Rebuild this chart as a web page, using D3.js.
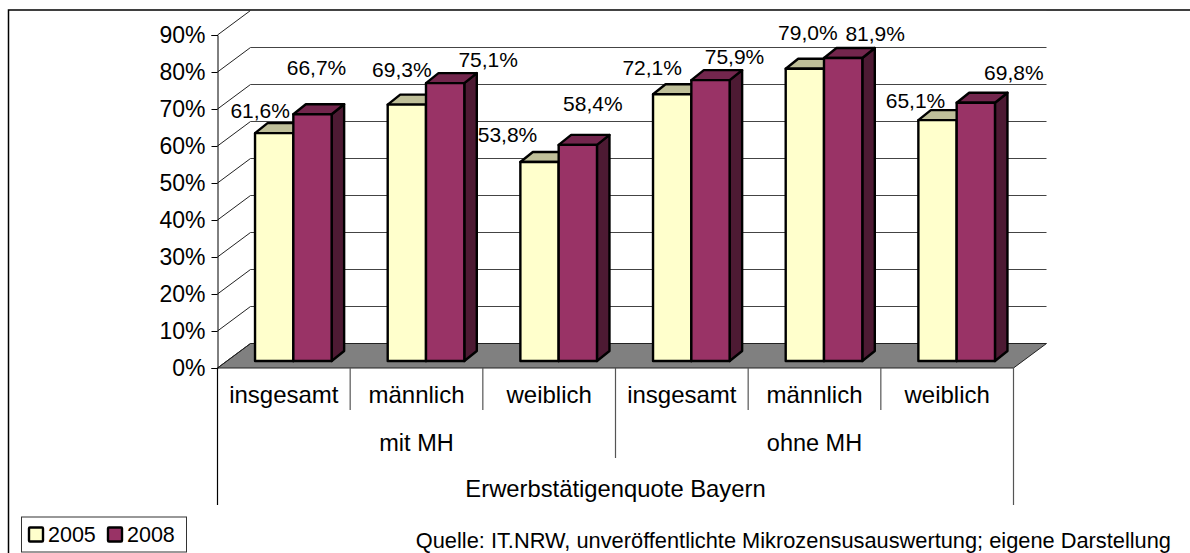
<!DOCTYPE html>
<html>
<head>
<meta charset="utf-8">
<script src="https://cdn.jsdelivr.net/npm/d3@7"></script>
<style>
  html, body { margin: 0; padding: 0; background: #fff; overflow: hidden; }
  text { font-family: "Liberation Sans", Arial, sans-serif; fill: #000; }
</style>
</head>
<body>
<div id="chart"></div>
<script>
// Data
const categories = ["insgesamt", "männlich", "weiblich", "insgesamt", "männlich", "weiblich"];
const groups = ["mit MH", "ohne MH"];
const axisTitle = "Erwerbstätigenquote Bayern";
const years = ["2005", "2008"];
const values2005 = [61.6, 69.3, 53.8, 72.1, 79.0, 65.1];
const values2008 = [66.7, 75.1, 58.4, 75.9, 81.9, 69.8];
const yTicks = [0, 10, 20, 30, 40, 50, 60, 70, 80, 90];
const source = "Quelle: IT.NRW, unveröffentlichte Mikrozensusauswertung; eigene Darstellung";

// Hand-placed data labels, offset from the top centre of each bar
const labelOffset2005 = [[-14, -15], [-5, -28], [-32, -20], [-20, -19], [3, -29], [-22, -12]];
const labelOffset2008 = [[4, -39], [43, -16], [15, -34], [24, -16], [32, -17], [38, -23]];

const width = 1190, height = 553;
const plot = {left: 217.5, right: 1013.5, top: 35, bottom: 368};
const wall = {dx: 33, dy: -24.5};   // floor depth
const barBase = {dx: 9.5, dy: -7};  // where the bars stand on the floor
const barDepth = {dx: 12.5, dy: -10};
const barW = 38.3;
const colors = {
  2005: {front: "#FFFFCC", top: "#BFBF99", side: "#808066"},
  2008: {front: "#993366", top: "#73264D", side: "#4D1A33"}
};

const svg = d3.select("#chart").append("svg")
  .attr("width", width)
  .attr("height", height)
  .style("display", "block");

const y = d3.scaleLinear().domain([0, 90]).range([plot.bottom, plot.top]);
const x = d3.scaleLinear().domain([0, categories.length]).range([plot.left, plot.right]);
const bandW = x(1) - x(0);
const groupX = d3.scaleBand().domain(groups).range([plot.left, plot.right]);

// Outer frame, open to the right and the bottom
svg.append("path")
  .attr("d", `M8.5,${height}V10H${width}`)
  .attr("fill", "none")
  .attr("stroke", "#000")
  .attr("stroke-width", 1.5);

// Floor
svg.append("path")
  .attr("d", `M${plot.left},${y(0)}L${plot.left + wall.dx},${y(0) + wall.dy}H${plot.right + wall.dx}L${plot.right},${y(0)}Z`)
  .attr("fill", "#808080")
  .attr("stroke", "#222")
  .attr("stroke-width", 1);

// Grid on the back wall and diagonals on the side wall
const grid = svg.append("g").attr("fill", "none");
grid.selectAll("path.side")
  .data(yTicks)
  .enter()
  .append("path")
  .attr("class", "side")
  .attr("d", d => `M${plot.left},${y(d)}l${wall.dx},${wall.dy}`)
  .attr("stroke", "#222")
  .attr("stroke-width", 1);
grid.selectAll("path.back")
  .data(yTicks.filter(d => d > 0))
  .enter()
  .append("path")
  .attr("class", "back")
  .attr("d", d => `M${plot.left + wall.dx},${y(d) + wall.dy}H${plot.right + wall.dx}`)
  .attr("stroke", "#444")
  .attr("stroke-width", 1.2);

// Y axis
const yAxis = svg.append("g")
  .attr("transform", `translate(${plot.left},0)`)
  .call(d3.axisLeft(y).tickValues(yTicks).tickFormat(d => d + "%").tickSize(6).tickPadding(6));
yAxis.selectAll("path, line").attr("stroke", "#000").attr("stroke-width", 1);
yAxis.selectAll("text").style("font-size", "23px").attr("fill", "#000");

// Bars: front, top and side faces
function drawBars(values, year, shift) {
  const g = svg.append("g").attr("stroke", "#000").attr("stroke-width", 2.4).attr("stroke-linejoin", "round");
  const c = colors[year];
  const left = i => x(i) + bandW / 2 + barBase.dx + shift;
  const base = y(0) + barBase.dy;
  const top = d => y(d) + barBase.dy;

  g.selectAll("path.side")
    .data(values)
    .enter()
    .append("path")
    .attr("class", "side")
    .attr("fill", c.side)
    .attr("d", (d, i) => `M${left(i) + barW},${top(d)}l${barDepth.dx},${barDepth.dy}V${base + barDepth.dy}l${-barDepth.dx},${-barDepth.dy}Z`);
  g.selectAll("path.top")
    .data(values)
    .enter()
    .append("path")
    .attr("class", "top")
    .attr("fill", c.top)
    .attr("d", (d, i) => `M${left(i)},${top(d)}l${barDepth.dx},${barDepth.dy}h${barW}l${-barDepth.dx},${-barDepth.dy}Z`);
  g.selectAll("rect")
    .data(values)
    .enter()
    .append("rect")
    .attr("fill", c.front)
    .attr("x", (d, i) => left(i))
    .attr("y", d => top(d))
    .attr("width", barW)
    .attr("height", d => base - top(d));
}

// 2008 goes second so it covers the side of the 2005 bar
drawBars(values2005, "2005", -barW);
drawBars(values2008, "2008", 0);

// Data labels
function drawLabels(values, offsets, shift) {
  svg.append("g").selectAll("text")
    .data(values)
    .enter()
    .append("text")
    .attr("text-anchor", "middle")
    .style("font-size", "21px")
    .attr("x", (d, i) => x(i) + bandW / 2 + barBase.dx + shift + barW / 2 + offsets[i][0])
    .attr("y", (d, i) => y(d) + barBase.dy + offsets[i][1])
    .text(d => d.toFixed(1).replace(".", ",") + "%");
}
drawLabels(values2005, labelOffset2005, -barW);
drawLabels(values2008, labelOffset2008, 0);

// Multi-level category axis
const levelBottom = {cat: 410, group: 458, title: 505};
svg.append("g").selectAll("line")
  .data(d3.range(categories.length + 1))
  .enter()
  .append("line")
  .attr("x1", d => x(d))
  .attr("x2", d => x(d))
  .attr("y1", y(0))
  .attr("y2", d => d === 0 || d === categories.length ? levelBottom.title : d === 3 ? levelBottom.group : levelBottom.cat)
  .attr("stroke", d => d === 0 ? "#000" : "#555")
  .attr("stroke-width", 1.2);

svg.append("g").selectAll("text")
  .data(categories)
  .enter()
  .append("text")
  .attr("text-anchor", "middle")
  .style("font-size", "24px")
  .attr("x", (d, i) => x(i) + bandW / 2)
  .attr("y", 403)
  .text(d => d);

svg.append("g").selectAll("text")
  .data(groups)
  .enter()
  .append("text")
  .attr("text-anchor", "middle")
  .style("font-size", "23.5px")
  .attr("x", d => groupX(d) + groupX.bandwidth() / 2)
  .attr("y", 451)
  .text(d => d);

svg.append("text")
  .attr("text-anchor", "middle")
  .style("font-size", "23.8px")
  .attr("x", (plot.left + plot.right) / 2)
  .attr("y", 497)
  .text(axisTitle);

// Legend
const legend = svg.append("g");
legend.append("rect")
  .attr("x", 21.5)
  .attr("y", 517)
  .attr("width", 165)
  .attr("height", 35)
  .attr("fill", "#fff")
  .attr("stroke", "#333")
  .attr("stroke-width", 1);
const legendX = d3.scalePoint().domain(years).range([29, 108]);
legend.selectAll("rect.key")
  .data(years)
  .enter()
  .append("rect")
  .attr("class", "key")
  .attr("x", d => legendX(d))
  .attr("y", 527.5)
  .attr("width", 14)
  .attr("height", 14)
  .attr("rx", 1)
  .attr("fill", d => colors[d].front)
  .attr("stroke", "#000")
  .attr("stroke-width", 2.4);
legend.selectAll("text")
  .data(years)
  .enter()
  .append("text")
  .style("font-size", "21.5px")
  .attr("x", d => legendX(d) + 19)
  .attr("y", 542)
  .text(d => d);

// Source
svg.append("text")
  .attr("text-anchor", "end")
  .style("font-size", "21.8px")
  .attr("x", 1171)
  .attr("y", 548)
  .text(source);
</script>
</body>
</html>
